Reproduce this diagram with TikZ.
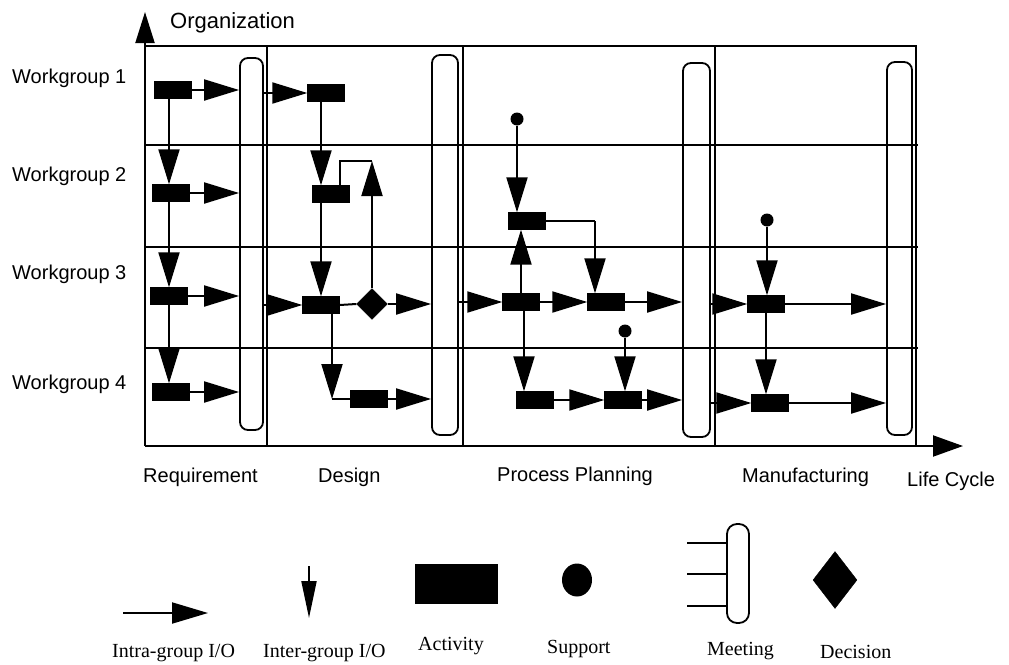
\documentclass[tikz,border=0pt]{standalone}
\usepackage{fontspec}
\usetikzlibrary{arrows.meta,shapes.geometric,calc}
\newfontfamily\lsans{Liberation Sans}
\newfontfamily\lserif{Liberation Serif}
\tikzset{
 act/.style={rectangle, fill=black, draw=black, minimum width=37pt, minimum height=17pt, inner sep=0pt},
 meet/.style={draw, rounded corners=8pt, line width=1.8pt, inner sep=0pt},
 sup/.style={circle, fill=black, minimum size=13pt, inner sep=0pt},
 dec/.style={diamond, fill=black, draw=black, minimum width=31pt, minimum height=31pt, inner sep=0pt},
 arr/.style={-{Triangle[length=35pt,width=21pt]}, line width=2pt},
 conn/.style={line width=2pt},
 gridl/.style={line width=1.8pt},
 lab/.style={font=\lsans\fontsize{20}{24}\selectfont, inner sep=0pt, anchor=base west},
 leg/.style={font=\lserif\fontsize{20}{24}\selectfont, inner sep=0pt, anchor=base west},
}
\begin{document}
\begin{tikzpicture}[x=1pt,y=-1pt]
\useasboundingbox (0,0) rectangle (1009,664);
% axes and grid
\coordinate (o) at (145,446);
\coordinate (ytip) at (145,12);
\coordinate (xtip) at (963,446);
\draw[arr,-{Triangle[length=31pt,width=19pt]}] (o) -- (ytip);
\draw[arr,-{Triangle[length=30pt,width=21pt]}] (o) -- (xtip);
\draw[gridl] (145,46) -- (916,46) -- (916,446);
\draw[gridl] (145,145) -- (918,145);
\draw[gridl] (145,247) -- (918,247);
\draw[gridl] (145,348) -- (918,348);
\draw[gridl] (267,46) -- (267,446);
\draw[gridl] (463,46) -- (463,446);
\draw[gridl] (715,46) -- (715,446);
% labels
\node[lab, font=\lsans\fontsize{22}{26}\selectfont] (org) at (170,28) {Organization};
\node[lab] (w1) at (12,83) {Workgroup 1};
\node[lab] (w2) at (12,181) {Workgroup 2};
\node[lab] (w3) at (12,279) {Workgroup 3};
\node[lab] (w4) at (12,389) {Workgroup 4};
\node[lab] (ph1) at (143,482) {Requirement};
\node[lab] (ph2) at (318,482) {Design};
\node[lab] (ph3) at (497,481) {Process Planning};
\node[lab] (ph4) at (742,482) {Manufacturing};
\node[lab] (lc) at (907,486) {Life Cycle};
% meetings
\node[meet, minimum width=23pt, minimum height=372pt] (m1) at (251.5,244) {};
\node[meet, minimum width=26pt, minimum height=380pt] (m2) at (445,245) {};
\node[meet, minimum width=27pt, minimum height=374pt] (m3) at (696.5,250) {};
\node[meet, minimum width=25pt, minimum height=373pt] (m4) at (899.5,248.5) {};
% Requirement
\node[act] (a1) at (173,90) {};
\node[act] (a2) at (171,193) {};
\node[act] (a3) at (169,296) {};
\node[act] (a4) at (171,392) {};
\coordinate (va) at (169,0);
\draw[arr] (a1.east) -- (a1 -| m1.west);
\draw[arr] (a2.east) -- (a2 -| m1.west);
\draw[arr] (a3.east) -- (a3 -| m1.west);
\draw[arr] (a4.east) -- (a4 -| m1.west);
\draw[arr] (a1.south -| va) -- (a2.north -| va);
\draw[arr] (a2.south -| va) -- (a3.north -| va);
\draw[arr] (a3.south -| va) -- (a4.north -| va);
% Design
\node[act] (b1) at (326,93) {};
\node[act] (b2) at (331,194) {};
\node[act] (b3) at (321,305) {};
\node[act] (b4) at (369,399) {};
\node[dec] (d1) at (372,304) {};
\coordinate (k1) at (372,161);
\coordinate (k2) at (332,399);
\draw[arr] (m1.east |- b1) -- (b1.west);
\draw[arr] (m1.east |- b3) -- (b3.west);
\draw[arr] (b1.south -| b3) -- (b2.north -| b3);
\draw[arr] (b2.south -| b3) -- (b3.north);
\draw[arr] (d1.north) -- (k1);
\draw[conn] (k1) -| ($(b2.north east)+(-10,0)$);
\draw[conn] (b3.east) -- (d1.west);
\draw[arr] (d1.east) -- (d1 -| m2.west);
\draw[arr] (b3.south -| k2) -- (k2);
\draw[conn] (k2) -- (b4.west);
\draw[arr] (b4.east) -- (b4 -| m2.west);
% Process planning
\node[sup] (s1) at (517,119) {};
\node[sup] (s2) at (625,331) {};
\node[act] (p1) at (527,221) {};
\node[act] (p2) at (521,302) {};
\node[act] (p3) at (606,302) {};
\node[act] (p4) at (535,400) {};
\node[act] (p5) at (623,400) {};
\coordinate (k3) at (595,221);
\path ($(p2.south)+(3,0)$) coordinate (k4);
\draw[arr] (m2.east |- p2) -- (p2.west);
\draw[arr] (s1.south) -- (s1 |- p1.north);
\draw[conn] (p1.east) -- (k3);
\draw[arr] (k3) -- (k3 |- p3.north);
\draw[arr] (p2.north) -- (p2.north |- p1.south);
\draw[arr] (p2.east) -- (p3.west);
\draw[arr] (p3.east) -- (p3 -| m3.west);
\draw[arr] (k4) -- (k4 |- p4.north);
\draw[arr] (p4.east) -- (p5.west);
\draw[arr] (s2.south) -- (s2 |- p5.north);
\draw[arr] (p5.east) -- (p5 -| m3.west);
% Manufacturing
\node[sup] (s3) at (767,220) {};
\node[act] (q1) at (766,304) {};
\node[act] (q2) at (770,403) {};
\draw[arr] (m3.east |- q1) -- (q1.west);
\draw[arr] (m3.east |- q2) -- (q2.west);
\draw[arr] (s3.south) -- (s3 |- q1.north);
\draw[arr] (q1.south) -- (q1.south |- q2.north);
\draw[arr] (q1.east) -- (q1 -| m4.west);
\draw[arr] (q2.east) -- (q2 -| m4.west);
% Legend
\coordinate (ia) at (123,613);
\coordinate (ib) at (208,613);
\draw[arr,-{Triangle[length=36pt,width=21pt]}] (ia) -- (ib);
\coordinate (ja) at (309,566);
\coordinate (jb) at (309,618);
\draw[arr,-{Triangle[length=37pt,width=15pt]}] (ja) -- (jb);
\node[act, minimum width=82pt, minimum height=39pt] (la) at (456,583.5) {};
\node[sup, ellipse, minimum width=30pt, minimum height=33pt] (ls) at (577,580) {};
\node[meet, minimum width=22pt, minimum height=99pt, rounded corners=10pt] (lm) at (738,573.5) {};
\coordinate (l1) at (687,543);
\coordinate (l2) at (687,574);
\coordinate (l3) at (687,606);
\draw[conn] (l1) -- (l1 -| lm.west);
\draw[conn] (l2) -- (l2 -| lm.west);
\draw[conn] (l3) -- (l3 -| lm.west);
\node[dec, minimum width=44pt, minimum height=57pt] (ld) at (835,580) {};
\node[leg] (t1) at (112,657) {Intra-group I/O};
\node[leg] (t2) at (263,657) {Inter-group I/O};
\node[leg] (t3) at (418,650) {Activity};
\node[leg] (t4) at (547,653) {Support};
\node[leg] (t5) at (707,655) {Meeting};
\node[leg] (t6) at (820,658) {Decision};
\end{tikzpicture}
\end{document}
